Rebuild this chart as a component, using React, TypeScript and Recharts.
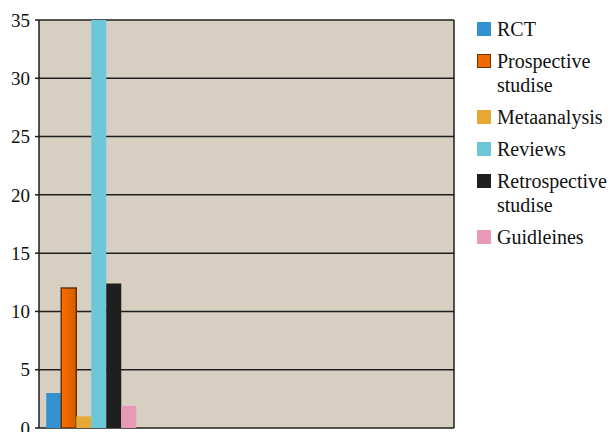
import React from "react";
import { BarChart, Bar, XAxis, YAxis, CartesianGrid } from "recharts";

const categories = ["A", "B", "C", "D"];
const rct = [3, 0, 0, 0];
const prospective = [12, 0, 0, 0];
const metaanalysis = [1, 0, 0, 0];
const reviews = [35, 0, 0, 0];
const retrospective = [12.4, 0, 0, 0];
const guidelines = [1.9, 0, 0, 0];
const yTicks = [0, 5, 10, 15, 20, 25, 30, 35];

const series = [
  { key: "rct", name: ["RCT"], color: "#3391d1", values: rct, stroke: "none" },
  { key: "prospective", name: ["Prospective", "studise"], color: "url(#gradOrange)", swatch: "#f06a00", values: prospective, stroke: "#6a3200" },
  { key: "metaanalysis", name: ["Metaanalysis"], color: "#e8a834", values: metaanalysis, stroke: "none" },
  { key: "reviews", name: ["Reviews"], color: "#6cc8d8", values: reviews, stroke: "none" },
  { key: "retrospective", name: ["Retrospective", "studise"], color: "#1f1f1f", values: retrospective, stroke: "none" },
  { key: "guidelines", name: ["Guidleines"], color: "#e899b7", values: guidelines, stroke: "none" },
];

const data = categories.map((c, i) => {
  const row: any = { cat: c, pos: i + 0.5 };
  series.forEach((s) => (row[s.key] = s.values[i]));
  return row;
});

const FONT = "Liberation Serif";

const LegendBox = () => (
  <div style={{ position: "absolute", left: 477, top: 22, width: 134, fontFamily: FONT, fontSize: 20, color: "#111" }}>
    {series.map((s) => (
      <div key={s.key} style={{ display: "flex", alignItems: "flex-start", marginBottom: 13 }}>
        <div
          style={{
            width: 14,
            height: 14,
            marginRight: 6,
            background: s.swatch || s.color,
            boxSizing: "border-box",
            border: s.stroke !== "none" ? `1.5px solid ${s.stroke}` : "none",
            flexShrink: 0,
          }}
        />
        <div style={{ lineHeight: "24px", marginTop: -5, whiteSpace: "nowrap" }}>
          {s.name.map((n, i) => (
            <div key={i}>{n}</div>
          ))}
        </div>
      </div>
    ))}
  </div>
);

export default function App() {
  return (
    <div style={{ position: "absolute", left: 0, top: 0, width: 611, height: 432, background: "#fff", overflow: "hidden" }}>
      <BarChart
        width={611}
        height={440}
        data={data}
        margin={{ top: 20, right: 156, left: 0, bottom: 0 }}
        barCategoryGap="7%"
        barGap={0}
      >
        <defs>
          <linearGradient id="gradOrange" x1="0" y1="0" x2="1" y2="0">
            <stop offset="0%" stopColor="#ff6c00" />
            <stop offset="100%" stopColor="#d06000" />
          </linearGradient>
        </defs>
        <CartesianGrid
          vertical={false}
          stroke="#1e1e1e"
          strokeWidth={1.5}
          fill="#d8cfc3"
          fillOpacity={1}
        />
        <XAxis dataKey="cat" xAxisId={0} hide />
        <XAxis
          xAxisId="b"
          type="number"
          dataKey="pos"
          domain={[0, 4]}
          ticks={[0, 1, 2, 3, 4]}
          tick={false}
          tickSize={6}
          tickLine={{ stroke: "#1e1e1e", strokeWidth: 1.5 }}
          axisLine={{ stroke: "#1e1e1e", strokeWidth: 1.5 }}
          height={12}
          allowDataOverflow
        />
        <YAxis
          domain={[0, 35]}
          ticks={yTicks}
          allowDataOverflow
          width={39}
          tickSize={4}
          tickMargin={5}
          interval={0}
          axisLine={{ stroke: "#1e1e1e", strokeWidth: 1.5 }}
          tickLine={{ stroke: "#1e1e1e", strokeWidth: 1.5 }}
          tick={{ fontSize: 19, fill: "#111", fontFamily: FONT }}
        />
        <YAxis
          yAxisId="r"
          orientation="right"
          domain={[0, 35]}
          width={1}
          tick={false}
          tickLine={false}
          axisLine={{ stroke: "#1e1e1e", strokeWidth: 1.5 }}
        />
        {series.map((s) => (
          <Bar
            key={s.key}
            dataKey={s.key}
            name={s.name.join(" ")}
            fill={s.color}
            stroke={s.stroke}
            strokeWidth={s.stroke !== "none" ? 1.5 : 0}
            isAnimationActive={false}
          />
        ))}
      </BarChart>
      <LegendBox />
    </div>
  );
}
